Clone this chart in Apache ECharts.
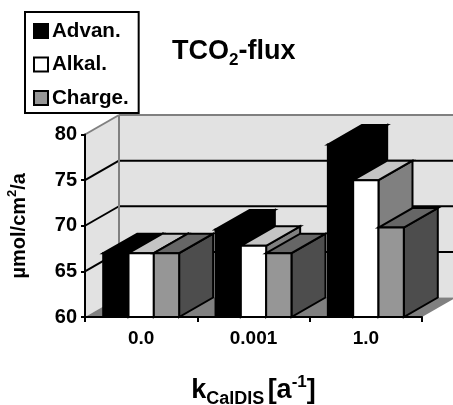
<!DOCTYPE html>
<html><head><meta charset="utf-8">
<style>html,body{margin:0;padding:0;background:#fff}#c{width:453px;height:405px}</style>
<script src="https://cdn.jsdelivr.net/npm/echarts@6/dist/echarts.min.js"></script>
</head><body><div id="c"></div>
<script>
const categories = ['0.0', '0.001', '1.0'];
const advan = [67, 69.6, 78.9];
const alkal = [67, 67.8, 75];
const charge = [67, 67, 69.8];
const yTicks = [65, 70, 75];
const FONT = '"Liberation Sans", Arial, sans-serif';
const DX = 34, DY = -19.5;
const GROUP = 0.676;

const chart = echarts.init(document.getElementById('c'), null, {renderer: 'canvas'});

function poly(points, fill, stroke, lw) {
  return {type: 'polygon', shape: {points}, style: {fill, stroke: stroke || 'none', lineWidth: lw || 0, lineJoin: 'miter'}};
}
function line(x1, y1, x2, y2, stroke, lw) {
  return {type: 'line', shape: {x1, y1, x2, y2}, style: {stroke, lineWidth: lw}};
}
function wallItem(params, api) {
  const c = params.coordSys;
  const x0 = c.x, x1 = c.x + c.width, top = c.y, bot = c.y + c.height;
  const kids = [
    poly([[x0, bot], [x0 + DX, bot + DY], [x0 + DX, top + DY], [x0, top]], '#e2e2e2'),
    poly([[x0 + DX, bot + DY], [x1 + DX, bot + DY], [x1 + DX, top + DY], [x0 + DX, top + DY]], '#e2e2e2'),
    poly([[x0, bot], [x1, bot], [x1 + DX, bot + DY], [x0 + DX, bot + DY]], '#808080')
  ];
  yTicks.forEach(t => {
    const y = api.coord([0, t])[1];
    kids.push(line(x0, y, x0 + DX, y + DY, '#000', 2));
    kids.push(line(x0 + DX, y + DY, x1 + DX, y + DY, '#000', 2));
  });
  kids.push(line(x0, top, x0 + DX, top + DY, '#808080', 2));
  kids.push(line(x0 + DX, top + DY, x1 + DX, top + DY, '#808080', 2));
  kids.push(line(x0 + DX, top + DY, x0 + DX, bot + DY, '#808080', 2));
  return {type: 'group', children: kids};
}
function barRenderer(slot, front, topc, side) {
  return function (params, api) {
    const cat = api.value(0), val = api.value(1);
    const p = api.coord([cat, val]);
    const base = api.coord([cat, 60]);
    const w = api.size([1, 0])[0] * GROUP / 3;
    const l = p[0] + (slot - 1.5) * w, r = l + w, t = p[1], b = base[1];
    const lw = 2;
    return {type: 'group', children: [
      poly([[r, t], [r + DX, t + DY], [r + DX, b + DY], [r, b]], side, '#000', lw),
      poly([[l, t], [l + DX, t + DY], [r + DX, t + DY], [r, t]], topc, '#000', lw),
      poly([[l, t], [r, t], [r, b], [l, b]], front, '#000', lw)
    ]};
  };
}
function barSeries(name, values, slot, front, topc, side) {
  return {
    name, type: 'custom', z: 3,
    data: values.map((v, i) => [i, v]),
    encode: {x: 0, y: 1},
    itemStyle: {color: front, borderColor: '#000', borderWidth: 1.6},
    renderItem: barRenderer(slot, front, topc, side)
  };
}

chart.setOption({
  animation: false,
  backgroundColor: '#fff',
  title: {
    left: 172, top: 35, padding: 0,
    text: '{b|TCO}{s|2}{b|-flux}',
    textStyle: {rich: {
      b: {fontFamily: FONT, fontWeight: 'bold', fontSize: 27, lineHeight: 34, color: '#000'},
      s: {fontFamily: FONT, fontWeight: 'bold', fontSize: 17, lineHeight: 24, verticalAlign: 'bottom', color: '#000'}
    }}
  },
  legend: {
    left: 25, top: 12, orient: 'vertical', align: 'left',
    data: ['Advan.', 'Alkal.', 'Charge.'],
    backgroundColor: '#fff', borderColor: '#000', borderWidth: 2,
    padding: [8, 10, 4, 8], itemGap: 11.5, itemWidth: 14, itemHeight: 14,
    icon: 'rect',
    textStyle: {fontFamily: FONT, fontWeight: 'bold', fontSize: 20.6, color: '#000', padding: [0, 0, 0, -1], lineHeight: 22},
    z: 20
  },
  grid: {left: 85, right: 31, top: 134.5, bottom: 88, outerBoundsMode: 'none'},
  xAxis: {
    type: 'category', data: categories, z: 10,
    axisLine: {lineStyle: {color: '#000', width: 2}},
    axisTick: {show: true, length: 5, alignWithLabel: false, lineStyle: {color: '#000', width: 2}},
    axisLabel: {fontFamily: FONT, fontWeight: 'bold', fontSize: 19, color: '#000', margin: 12},
    name: '{k|k}{s|CalDIS} {k|[a}{u|-1}{k|]}',
    nameLocation: 'middle', nameGap: 57,
    nameTextStyle: {rich: {
      k: {fontFamily: FONT, fontWeight: 'bold', fontSize: 27, lineHeight: 34, color: '#000'},
      s: {fontFamily: FONT, fontWeight: 'bold', fontSize: 18, lineHeight: 24, verticalAlign: 'bottom', color: '#000'},
      u: {fontFamily: FONT, fontWeight: 'bold', fontSize: 17, lineHeight: 24, verticalAlign: 'top', color: '#000'}
    }}
  },
  yAxis: {
    type: 'value', min: 60, max: 80, interval: 5, z: 10,
    axisLine: {show: true, lineStyle: {color: '#000', width: 2}},
    axisTick: {show: true, length: 4, lineStyle: {color: '#000', width: 2}},
    splitLine: {show: false},
    axisLabel: {fontFamily: FONT, fontWeight: 'bold', fontSize: 20, color: '#000', margin: 8},
    name: '{m|µmol/cm}{u|2}{m|/a}',
    nameLocation: 'middle', nameGap: 53, nameRotate: 90,
    nameTextStyle: {rich: {
      m: {fontFamily: FONT, fontWeight: 'bold', fontSize: 20, lineHeight: 26, color: '#000'},
      u: {fontFamily: FONT, fontWeight: 'bold', fontSize: 13, lineHeight: 20, verticalAlign: 'top', color: '#000'}
    }}
  },
  series: [
    {type: 'custom', name: 'walls', z: 1, silent: true, data: [[0, 60]], encode: {x: 0, y: 1}, renderItem: wallItem},
    barSeries('Advan.', advan, 0, '#000000', '#000000', '#000000'),
    barSeries('Alkal.', alkal, 1, '#ffffff', '#c4c4c4', '#808080'),
    barSeries('Charge.', charge, 2, '#969696', '#666666', '#4d4d4d')
  ]
});
</script></body></html>
